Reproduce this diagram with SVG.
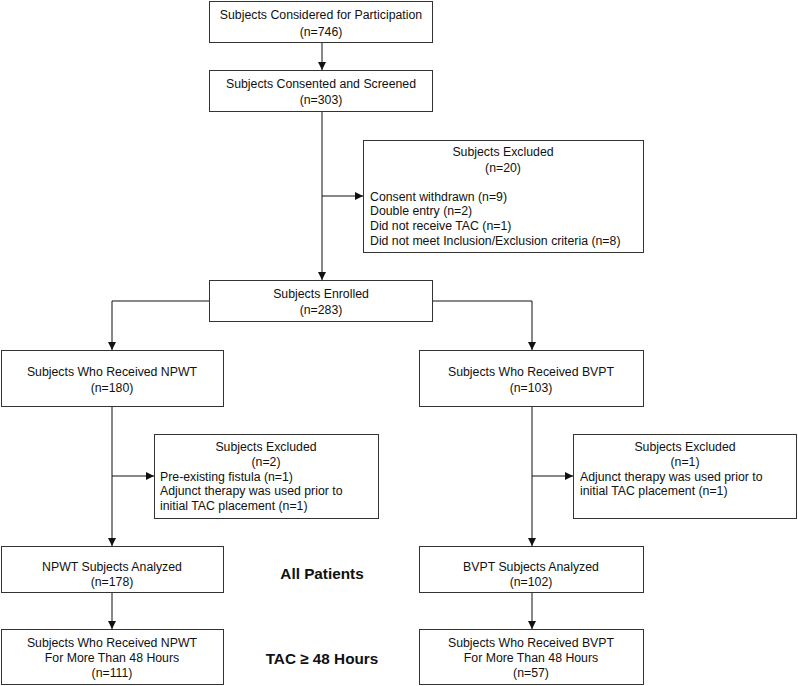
<svg xmlns="http://www.w3.org/2000/svg" width="798" height="686" viewBox="0 0 798 686">
<style>
.box{fill:#fff;stroke:#333;stroke-width:1}
.t{font-family:"Liberation Sans",Arial,sans-serif;font-size:12.3px;fill:#111}
.c{text-anchor:middle}
.b{font-family:"Liberation Sans",Arial,sans-serif;font-size:15.3px;font-weight:bold;fill:#111;text-anchor:middle}
.ln{fill:none;stroke:#111;stroke-width:1}
</style>
<defs>
<marker id="ah" markerUnits="userSpaceOnUse" markerWidth="9" markerHeight="9" refX="8" refY="4" orient="auto">
<path d="M0,0 L8,4 L0,8 z" fill="#111"/>
</marker>
</defs>
<rect width="798" height="686" fill="#fff"/>
<g id="connectors">
<path class="ln" d="M322,42 V70" marker-end="url(#ah)"/>
<path class="ln" d="M322,112 V280" marker-end="url(#ah)"/>
<path class="ln" d="M322,196 H363" marker-end="url(#ah)"/>
<path class="ln" d="M209.5,301 H112 V350" marker-end="url(#ah)"/>
<path class="ln" d="M432.5,301 H532 V350" marker-end="url(#ah)"/>
<path class="ln" d="M112,406 V546" marker-end="url(#ah)"/>
<path class="ln" d="M112,476 H154" marker-end="url(#ah)"/>
<path class="ln" d="M112,592 V629" marker-end="url(#ah)"/>
<path class="ln" d="M532,406 V546" marker-end="url(#ah)"/>
<path class="ln" d="M532,476 H573" marker-end="url(#ah)"/>
<path class="ln" d="M532,592 V629" marker-end="url(#ah)"/>
</g>
<g id="considered">
<rect class="box" x="209.5" y="1.5" width="223" height="41"/>
<text class="t c" x="321" y="18.5">Subjects Considered for Participation</text>
<text class="t c" x="321" y="35.5">(n=746)</text>
</g>
<g id="screened">
<rect class="box" x="209.5" y="70.5" width="223" height="41"/>
<text class="t c" x="321" y="87.5">Subjects Consented and Screened</text>
<text class="t c" x="321" y="103.5">(n=303)</text>
</g>
<g id="excluded1">
<rect class="box" x="363.5" y="140.5" width="280" height="112"/>
<text class="t c" x="503" y="155.5">Subjects Excluded</text>
<text class="t c" x="503" y="171.5">(n=20)</text>
<text class="t" x="370" y="200.5">Consent withdrawn (n=9)</text>
<text class="t" x="370" y="215.3">Double entry (n=2)</text>
<text class="t" x="370" y="230">Did not receive TAC (n=1)</text>
<text class="t" x="370" y="244.8">Did not meet Inclusion/Exclusion criteria (n=8)</text>
</g>
<g id="enrolled">
<rect class="box" x="209.5" y="280.5" width="223" height="41"/>
<text class="t c" x="321" y="297.5">Subjects Enrolled</text>
<text class="t c" x="321" y="313.5">(n=283)</text>
</g>
<g id="npwt">
<rect class="box" x="1.5" y="350.5" width="222" height="56"/>
<text class="t c" x="112" y="375.5">Subjects Who Received NPWT</text>
<text class="t c" x="112" y="391.5">(n=180)</text>
</g>
<g id="bvpt">
<rect class="box" x="419.5" y="350.5" width="224" height="56"/>
<text class="t c" x="531" y="375.5">Subjects Who Received BVPT</text>
<text class="t c" x="531" y="391.5">(n=103)</text>
</g>
<g id="excluded-npwt">
<rect class="box" x="154.5" y="434.5" width="224" height="84"/>
<text class="t c" x="266" y="450.5">Subjects Excluded</text>
<text class="t c" x="266" y="465.5">(n=2)</text>
<text class="t" x="160" y="480.5">Pre-existing fistula (n=1)</text>
<text class="t" x="160" y="495.3">Adjunct therapy was used prior to</text>
<text class="t" x="160" y="510">initial TAC placement (n=1)</text>
</g>
<g id="excluded-bvpt">
<rect class="box" x="573.5" y="434.5" width="223" height="84"/>
<text class="t c" x="685" y="450.5">Subjects Excluded</text>
<text class="t c" x="685" y="465.5">(n=1)</text>
<text class="t" x="580" y="480.5">Adjunct therapy was used prior to</text>
<text class="t" x="580" y="495.3">initial TAC placement (n=1)</text>
</g>
<g id="npwt-analyzed">
<rect class="box" x="1.5" y="546.5" width="222" height="46"/>
<text class="t c" x="112" y="571">NPWT Subjects Analyzed</text>
<text class="t c" x="112" y="586">(n=178)</text>
</g>
<g id="bvpt-analyzed">
<rect class="box" x="419.5" y="546.5" width="224" height="46"/>
<text class="t c" x="531" y="571">BVPT Subjects Analyzed</text>
<text class="t c" x="531" y="586">(n=102)</text>
</g>
<g id="npwt-48">
<rect class="box" x="1.5" y="629.5" width="222" height="55"/>
<text class="t c" x="112" y="646.5">Subjects Who Received NPWT</text>
<text class="t c" x="112" y="662">For More Than 48 Hours</text>
<text class="t c" x="112" y="676.5">(n=111)</text>
</g>
<g id="bvpt-48">
<rect class="box" x="419.5" y="629.5" width="224" height="55"/>
<text class="t c" x="531" y="646.5">Subjects Who Received BVPT</text>
<text class="t c" x="531" y="662">For More Than 48 Hours</text>
<text class="t c" x="531" y="676.5">(n=57)</text>
</g>
<g id="label-all">
<text class="b" x="322" y="578.5">All Patients</text>
</g>
<g id="label-tac">
<text class="b" x="322" y="663.5">TAC ≥ 48 Hours</text>
</g>
</svg>
